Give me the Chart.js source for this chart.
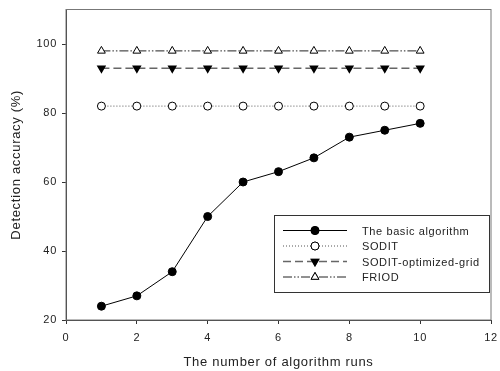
<!DOCTYPE html>
<html lang="en">
<head>
    <meta charset="UTF-8">
    <title>Detection accuracy</title>
    <script src="https://cdn.jsdelivr.net/npm/chart.js"></script>
    <style>
        html, body { margin: 0; padding: 0; background: #fff; }
        #wrap { width: 500px; height: 371px; }
    </style>
</head>
<body>
    <div id="wrap"><canvas id="chart" width="500" height="371"></canvas></div>
    <script>
        // Data
        const runs = [1, 2, 3, 4, 5, 6, 7, 8, 9, 10];
        const basicAlgorithm = [24, 27, 34, 50, 60, 63, 67, 73, 75, 77];
        const sodit = [82, 82, 82, 82, 82, 82, 82, 82, 82, 82];
        const soditOptimized = [93, 93, 93, 93, 93, 93, 93, 93, 93, 93];
        const friod = [98, 98, 98, 98, 98, 98, 98, 98, 98, 98];
        const seriesNames = ['The basic algorithm', 'SODIT', 'SODIT-optimized-grid', 'FRIOD'];
        const yTicks = [20, 40, 60, 80, 100];

        const font = 'Liberation Sans, Arial, sans-serif';

        function toPoints(values) {
            return runs.map((r, i) => ({ x: r, y: values[i] }));
        }

        // the original figure uses slightly spaced-out lettering
        const spacing = {
            id: 'spacing',
            beforeDraw(chart) { chart.ctx.letterSpacing = '0.7px'; }
        };

        // frame around the plot area (top and right edges)
        const framePlugin = {
            id: 'frame',
            afterDraw(chart) {
                const { ctx, chartArea: a } = chart;
                ctx.save();
                ctx.strokeStyle = '#777';
                ctx.lineWidth = 1;
                ctx.strokeRect(a.left, a.top, a.right - a.left, a.bottom - a.top);
                ctx.restore();
            }
        };

        // legend box drawn inside the plot, like the original figure
        const boxLegend = {
            id: 'boxLegend',
            afterDraw(chart) {
                const ctx = chart.ctx;
                const x0 = 274, y0 = 215, w = 215, h = 77;
                ctx.save();
                ctx.fillStyle = '#fff';
                ctx.fillRect(x0, y0, w, h);
                ctx.strokeStyle = '#333';
                ctx.lineWidth = 1;
                ctx.strokeRect(x0 + 0.5, y0 + 0.5, w, h);
                chart.data.datasets.forEach((ds, i) => {
                    const y = y0 + 15.5 + i * 15.5;
                    ctx.beginPath();
                    ctx.setLineDash(ds.borderDash || []);
                    ctx.strokeStyle = ds.borderColor;
                    ctx.lineWidth = ds.borderWidth;
                    ctx.moveTo(283, y);
                    ctx.lineTo(347, y);
                    ctx.stroke();
                    ctx.setLineDash([]);
                    Chart.helpers.drawPoint(ctx, {
                        pointStyle: ds.pointStyle,
                        radius: ds.pointRadius,
                        rotation: ds.pointRotation || 0,
                        borderWidth: 1
                    }, 315, y);
                    ctx.fillStyle = ds.pointBackgroundColor;
                    ctx.strokeStyle = '#000';
                    ctx.fill();
                    ctx.stroke();
                    ctx.fillStyle = '#222';
                    ctx.font = '11px ' + font;
                    ctx.letterSpacing = '0.6px';
                    ctx.textBaseline = 'middle';
                    ctx.fillText(ds.label, 362, y + 1);
                });
                ctx.restore();
            }
        };

        new Chart(document.getElementById('chart'), {
            type: 'line',
            data: {
                datasets: [{
                    label: seriesNames[0],
                    data: toPoints(basicAlgorithm),
                    borderColor: '#000',
                    borderWidth: 1,
                    pointStyle: 'circle',
                    pointRadius: 4,
                    pointBackgroundColor: '#000',
                    pointBorderColor: '#000'
                }, {
                    label: seriesNames[1],
                    data: toPoints(sodit),
                    borderColor: '#555',
                    borderWidth: 1,
                    borderDash: [1, 2],
                    pointStyle: 'circle',
                    pointRadius: 4,
                    pointBackgroundColor: '#fff',
                    pointBorderColor: '#000'
                }, {
                    label: seriesNames[2],
                    data: toPoints(soditOptimized),
                    borderColor: '#666',
                    borderWidth: 1.5,
                    borderDash: [8, 4],
                    pointStyle: 'triangle',
                    pointRotation: 180,
                    pointRadius: 4,
                    pointBackgroundColor: '#000',
                    pointBorderColor: '#000'
                }, {
                    label: seriesNames[3],
                    data: toPoints(friod),
                    borderColor: '#222',
                    borderWidth: 1,
                    borderDash: [9, 2, 1.5, 2, 1.5, 2],
                    pointStyle: 'triangle',
                    pointRadius: 4.5,
                    pointBackgroundColor: '#fff',
                    pointBorderColor: '#000'
                }]
            },
            options: {
                responsive: false,
                animation: false,
                layout: { padding: { top: 9.5, right: 9, left: 0, bottom: 0 } },
                plugins: {
                    legend: { display: false },
                    tooltip: { enabled: false }
                },
                scales: {
                    x: {
                        type: 'linear',
                        min: 0,
                        max: 12,
                        ticks: { stepSize: 2, color: '#222', font: { family: font, size: 11 }, padding: 7 },
                        grid: { drawOnChartArea: false, tickLength: 4, color: '#333' },
                        border: { color: '#333' },
                        title: {
                            display: true,
                            text: 'The number of algorithm runs',
                            color: '#222',
                            font: { family: font, size: 13 },
                            padding: { top: 8, bottom: 1 }
                        },
                        afterFit(scale) {
                            scale.height = 51;
                            scale.paddingLeft = 0;
                            scale.paddingRight = 0;
                        }
                    },
                    y: {
                        min: 20,
                        max: 110,
                        afterBuildTicks(scale) {
                            scale.ticks = yTicks.map(v => ({ value: v }));
                        },
                        ticks: { color: '#222', font: { family: font, size: 11 }, padding: 5 },
                        grid: { drawOnChartArea: false, tickLength: 4, color: '#333' },
                        border: { color: '#333' },
                        title: {
                            display: true,
                            text: 'Detection accuracy (%)',
                            color: '#222',
                            font: { family: font, size: 13 },
                            padding: { top: 9, bottom: 8 }
                        },
                        afterFit(scale) {
                            scale.width = 66;
                            scale.paddingTop = 0;
                            scale.paddingBottom = 0;
                        }
                    }
                }
            },
            plugins: [spacing, framePlugin, boxLegend]
        });
    </script>
</body>
</html>
